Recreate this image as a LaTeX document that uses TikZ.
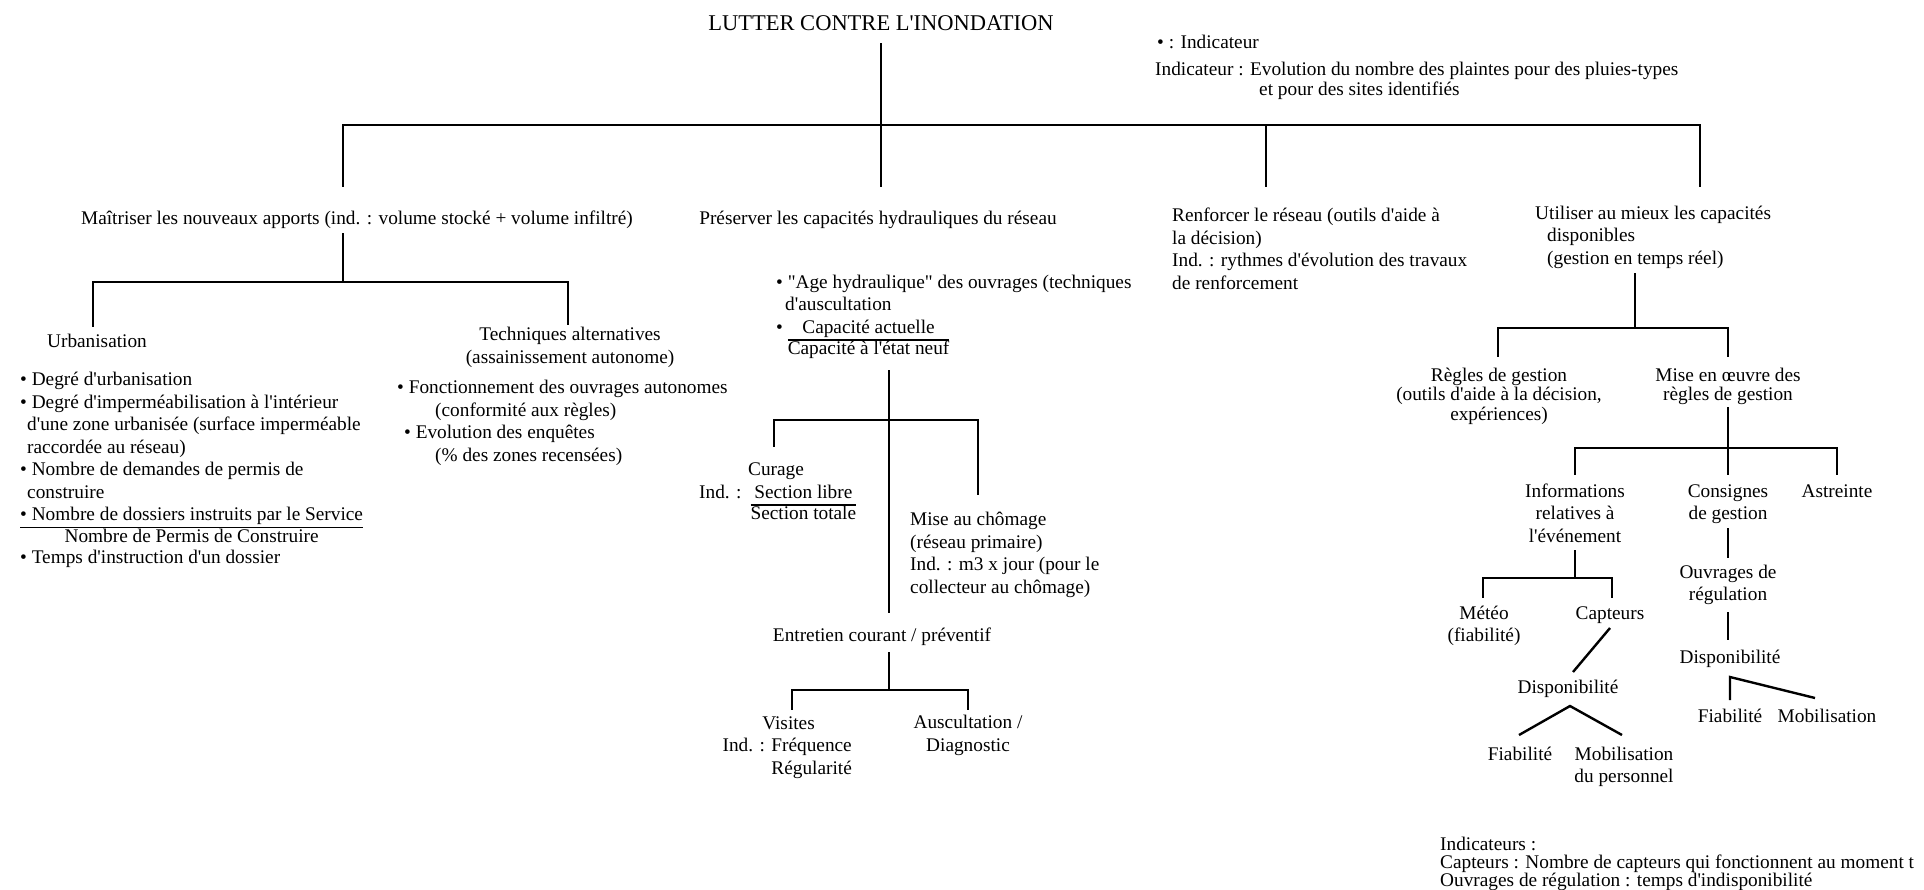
\documentclass[tikz,border=0pt]{standalone}
\usepackage{fontspec}
\setmainfont{Liberation Serif}[Ligatures=TeXOff]
% fraction : numerateur / barre / denominateur
\newcommand{\rapport}[2]{{\setlength{\arrayrulewidth}{1.6pt}\renewcommand{\arraystretch}{0.9}%
  \begin{tabular}[t]{@{}c@{}}#1\\\hline #2\end{tabular}}}

\begin{document}
\begin{tikzpicture}[x=1pt, y=-1pt,
    lien/.style={line width=2.4pt},
    txt/.style={inner sep=0pt, anchor=base, align=center},
    gtxt/.style={inner sep=0pt, anchor=base west, align=left},
    serre/.style={font=\fontsize{19.3}{19.5}\selectfont},
    font=\fontsize{19.3}{22.5}\selectfont]
    \useasboundingbox (0,0) rectangle (1924,889);

    % Titre et legende
    \node[txt, font=\fontsize{22.5}{26}\selectfont] (titre) at (881,30) {LUTTER CONTRE L'INONDATION};
    \node[gtxt] (leg) at (1157,48) {• : Indicateur};
    \node[gtxt, serre] (indic) at (1155,95)
    {Indicateur : Evolution du nombre des plaintes pour des pluies-types\\
      \hspace*{104pt}et pour des sites identifiés};

    % Niveau 1
    \coordinate (b0) at (881,125);
    \node[txt] (maitr) at (357,224)
    {Maîtriser les nouveaux apports (ind. : volume stocké + volume infiltré)};
    \node[txt] (pres) at (878,224) {Préserver les capacités hydrauliques du réseau};
    \node[gtxt] (renf) at (1172,289)
    {Renforcer le réseau (outils d'aide à\\la décision)\\
      Ind. : rythmes d'évolution des travaux\\de renforcement};
    \node[gtxt] (util) at (1535,264)
    {Utiliser au mieux les capacités\\\hspace*{12pt}disponibles\\
      \hspace*{12pt}(gestion en temps réel)};
    \draw[lien] ([yshift=-13pt]titre.base) -- (b0);
    \draw[lien] (b0) -| ([xshift=-14pt,yshift=37pt]maitr.base);
    \draw[lien] (b0) -- ([xshift=3pt,yshift=37pt]pres.base);
    \draw[lien] (b0) -| ([xshift=94pt,yshift=102pt]renf.base west);
    \draw[lien] (b0) -| ([xshift=165pt,yshift=77pt]util.base west);

    % Maitriser les nouveaux apports
    \coordinate (b1) at (343,282);
    \draw[lien] ([xshift=-14pt,yshift=-9pt]maitr.base) -- (b1);
    \node[txt] (urb) at (97,347) {Urbanisation};
    \node[txt] (tech) at (570,363) {Techniques alternatives\\(assainissement autonome)};
    \draw[lien] (b1) -| ([xshift=-4pt,yshift=20pt]urb.base);
    \draw[lien] (b1) -| ([xshift=-2pt,yshift=38pt]tech.base);
    \node[gtxt] (urbl) at (20,563)
    {• Degré d'urbanisation\\
      • Degré d'imperméabilisation à l'intérieur\\
      \hspace*{7pt}d'une zone urbanisée (surface imperméable\\
      \hspace*{7pt}raccordée au réseau)\\
      • Nombre de demandes de permis de\\
      \hspace*{7pt}construire\\
      \rapport{• Nombre de dossiers instruits par le Service}{Nombre de Permis de Construire}\\
      • Temps d'instruction d'un dossier};
    \node[gtxt] (techl) at (397,461)
    {• Fonctionnement des ouvrages autonomes\\
      \hspace*{38pt}(conformité aux règles)\\
      \hspace*{7pt}• Evolution des enquêtes\\
      \hspace*{38pt}(\% des zones recensées)};

    % Preserver les capacites
    \node[gtxt] (presl) at (776,333)
    {• "Age hydraulique" des ouvrages (techniques\\
      \hspace*{9pt}d'auscultation\\
      • \rapport{Capacité actuelle}{Capacité à l'état neuf}};
    \coordinate (b2) at (889,420);
    \draw[lien] ([xshift=113pt,yshift=-37pt]presl.base west) -- (b2);
    \node[gtxt] (cur) at (699,498)
    {\hspace*{49pt}Curage\\Ind. :\hspace*{9pt}\rapport{Section libre}{Section totale}};
    \node[gtxt] (chom) at (910,593)
    {Mise au chômage\\(réseau primaire)\\Ind. : m3 x jour (pour le\\collecteur au chômage)};
    \draw[lien] (b2) -| ([xshift=75pt,yshift=51pt]cur.base west);
    \draw[lien] (b2) -| ([xshift=68pt,yshift=98pt]chom.base west);
    \node[txt] (entr) at (882,641) {Entretien courant / préventif};
    \draw[lien] (b2) -- ([xshift=7pt,yshift=28pt]entr.base);

    \coordinate (b3) at (889,690);
    \draw[lien] ([xshift=7pt,yshift=-11pt]entr.base) -- (b3);
    \node[inner sep=0pt, anchor=base east, align=right] (vis) at (852,774)
    {Visites\hspace*{37pt}\\Ind. : Fréquence\\Régularité};
    \node[txt] (ausc) at (968,751) {Auscultation /\\Diagnostic};
    \draw[lien] (b3) -| ([xshift=-60pt,yshift=64pt]vis.base east);
    \draw[lien] (b3) -| ([yshift=41pt]ausc.base);

    % Utiliser au mieux les capacites
    \coordinate (b4) at (1635,328);
    \draw[lien] ([xshift=100pt,yshift=-9pt]util.base west) -- (b4);
    \node[txt, serre] (regl) at (1499,420)
    {Règles de gestion\\(outils d'aide à la décision,\\expériences)};
    \node[txt, serre] (mise) at (1728,400.5) {Mise en œuvre des\\règles de gestion};
    \draw[lien] (b4) -| ([xshift=-1pt,yshift=63pt]regl.base);
    \draw[lien] (b4) -| ([yshift=43.5pt]mise.base);

    \coordinate (b5) at (1728,448);
    \draw[lien] ([yshift=-6.5pt]mise.base) -- (b5);
    \node[txt] (info) at (1575,542) {Informations\\relatives à\\l'événement};
    \node[txt] (cons) at (1728,519.5) {Consignes\\de gestion};
    \node[txt] (astr) at (1837,497) {Astreinte};
    \draw[lien] (b5) -| ([yshift=67pt]info.base);
    \draw[lien] (b5) -- ([yshift=44.5pt]cons.base);
    \draw[lien] (b5) -| ([yshift=22pt]astr.base);

    % Informations relatives a l'evenement
    \coordinate (b6) at (1575,578);
    \draw[lien] ([yshift=-8pt]info.base) -- (b6);
    \node[txt] (meteo) at (1484,641.5) {Météo\\(fiabilité)};
    \node[txt] (capt) at (1610,619) {Capteurs};
    \draw[lien] (b6) -| ([xshift=-1pt,yshift=43.5pt]meteo.base);
    \draw[lien] (b6) -| ([xshift=2pt,yshift=21pt]capt.base);
    \node[txt] (dispA) at (1568,693) {Disponibilité};
    \draw[lien] ([yshift=-9pt]capt.base) -- ([xshift=5pt,yshift=21pt]dispA.base);
    \node[txt] (fiabA) at (1520,760) {Fiabilité};
    \node[txt] (mobA) at (1624,782.5) {Mobilisation\\du personnel};
    \draw[lien] ([xshift=-1pt,yshift=25pt]fiabA.base) -- ([xshift=2pt,yshift=-13pt]dispA.base)
      -- ([xshift=-2pt,yshift=47.5pt]mobA.base);

    % Consignes de gestion
    \node[txt] (ouvr) at (1728,600.5) {Ouvrages de\\régulation};
    \draw[lien] ([yshift=-8.5pt]cons.base) -- ([yshift=42.5pt]ouvr.base);
    \node[txt] (dispB) at (1730,663) {Disponibilité};
    \draw[lien] ([yshift=-11.5pt]ouvr.base) -- ([xshift=-2pt,yshift=23pt]dispB.base);
    \node[txt] (fiabB) at (1730,722) {Fiabilité};
    \node[txt] (mobB) at (1827,722) {Mobilisation};
    \draw[lien] ([yshift=22pt]fiabB.base) -- ([yshift=-14pt]dispB.base)
      -- ([xshift=-12pt,yshift=24pt]mobB.base);

    % Indicateurs
    \node[gtxt, font=\fontsize{19.3}{18}\selectfont] (pied) at (1440,886)
    {Indicateurs :\\Capteurs : Nombre de capteurs qui fonctionnent au moment t\\
      Ouvrages de régulation : temps d'indisponibilité};
  \end{tikzpicture}
\end{document}
